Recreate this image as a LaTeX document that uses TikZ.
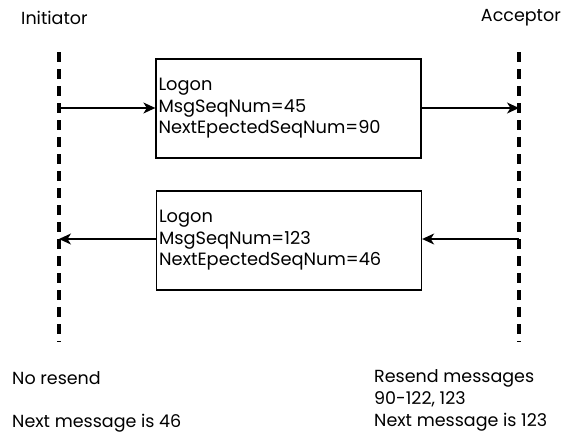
\documentclass[tikz,border=0pt]{standalone}
\usepackage{fontspec}
\setmainfont{Poppins}
\usetikzlibrary{arrows.meta}
\begin{document}
\begin{tikzpicture}[x=1pt,y=-1pt,
  lifeline/.style={line width=3.3pt,dash pattern=on 10pt off 7pt},
  msgbox/.style={draw,line width=1.3pt,minimum width=265pt,minimum height=99pt,inner sep=0pt},
  msgtext/.style={align=left,anchor=west,font=\fontsize{17.8}{21.5}\selectfont,inner sep=0pt},
  label/.style={font=\fontsize{17.5}{22}\selectfont,inner sep=0pt,align=left},
  msg/.style={line width=1.3pt,-{Stealth[length=12pt,width=11pt,inset=3.5pt]}}]
\useasboundingbox (0,0) rectangle (573,437);
\node[label,anchor=west] (init) at (21,18) {Initiator};
\node[label,anchor=east] (acc) at (561,18) {Acceptor};
\coordinate (lt) at (59,52);
\coordinate (lb) at (59,342);
\coordinate (rt) at (519,52);
\coordinate (rb) at (519,342);
\draw[lifeline] (lt) -- (lb);
\draw[lifeline] (rt) -- (rb);
\node[msgbox] (b1) at (288.5,108.5) {};
\node[msgtext] (t1) at ([xshift=3pt]b1.west) {Logon\\MsgSeqNum=45\\NextEpectedSeqNum=90};
\node[msgbox] (b2) at (289,240.5) {};
\node[msgtext] (t2) at ([xshift=3pt]b2.west) {Logon\\MsgSeqNum=123\\NextEpectedSeqNum=46};
\coordinate (a1) at (59,108);
\coordinate (a2) at (519,108);
\coordinate (c1) at (59,239);
\coordinate (c2) at (519,239);
\draw[msg] (a1) -- (a1 -| b1.west);
\draw[msg] (b1.east |- a2) -- (a2);
\draw[msg] (c2) -- (c2 -| b2.east);
\draw[msg] (b2.west |- c1) -- (c1);
\node[label,anchor=west] (l1) at (12,378) {No resend};
\node[label,anchor=west] (l2) at (12,423) {Next message is 46};
\node[label,anchor=north west] (r1) at (374,369) {Resend messages\\90-122, 123\\Next message is 123};
\end{tikzpicture}
\end{document}
